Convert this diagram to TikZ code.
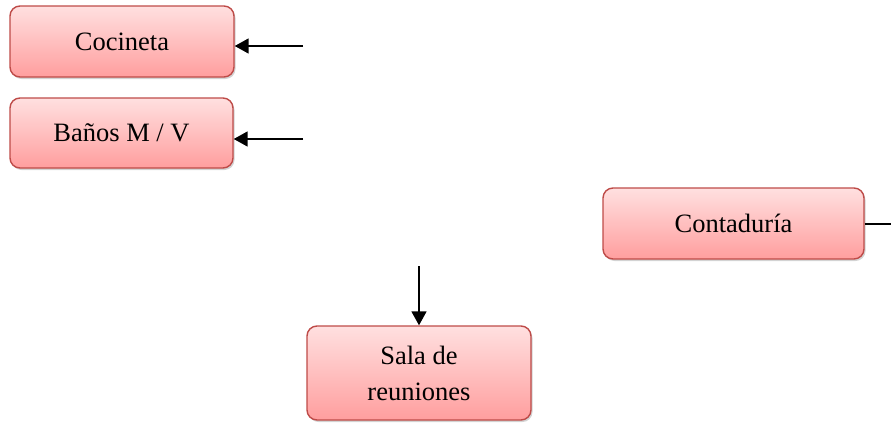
\documentclass[tikz,border=0pt]{standalone}
\usepackage{fontspec}
\setmainfont{Liberation Serif}
\usetikzlibrary{arrows.meta,shadows}
\begin{document}
\begin{tikzpicture}[x=1pt,y=-1pt,
  box/.style={draw={rgb,255:red,190;green,75;blue,72}, line width=1.4pt, rounded corners=10pt,
    top color={rgb,255:red,255;green,224;blue,224}, bottom color={rgb,255:red,255;green,158;blue,158},
    drop shadow={shadow xshift=1.5pt,shadow yshift=-2pt,opacity=0.35,fill=gray},
    inner sep=0pt, align=center, font=\fontsize{26.5}{36}\selectfont},
  arr/.style={line width=1.8pt, -{Triangle[width=15pt,length=14pt]}}]
\useasboundingbox (0,0) rectangle (891,423);
\node[box, minimum width=224pt, minimum height=71pt] (coc) at (122,41.5) {Cocineta};
\node[box, minimum width=223pt, minimum height=70pt] (ban) at (121.5,133) {Baños M / V};
\node[box, minimum width=261pt, minimum height=71pt] (con) at (733.5,223.5) {Contaduría};
\node[box, minimum width=224pt, minimum height=94pt] (sal) at (419,373) {Sala de\\reuniones};
\coordinate (c1) at (303,46);
\coordinate (c2) at (303,139);
\coordinate (c3) at (891,224);
\coordinate (c4) at (419,266);
\draw[arr] (c1) -- (coc.east |- c1);
\draw[arr] (c2) -- (ban.east |- c2);
\draw[line width=1.8pt] (con.east |- c3) -- (c3);
\draw[arr] (c4) -- (sal.north);
\end{tikzpicture}
\end{document}
